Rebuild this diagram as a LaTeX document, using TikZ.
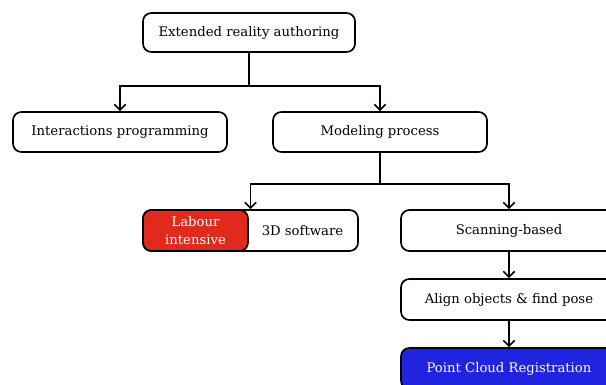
\documentclass[tikz,border=0pt]{standalone}
\usepackage{fontspec}
\setmainfont{DejaVu Serif}
\usetikzlibrary{arrows.meta}
\definecolor{labourred}{RGB}{224,42,30}
\definecolor{pcrblue}{RGB}{32,36,224}
\begin{document}
\begin{tikzpicture}[x=0.025cm, y=-0.025cm,
	box/.style={rectangle, rounded corners=6pt, draw=black, line width=1.2pt, fill=white, align=center, font=\fontsize{9.4}{11}\selectfont},
	link/.style={-{Straight Barb[length=4pt, width=8pt, line width=1.2pt]}, line width=1.2pt}]
	\clip (0,0) rectangle (606,385);

	\node[box, minimum width=5.3cm, minimum height=0.975cm](authoring) at (249,32.5){Extended reality authoring};
	\node[box, minimum width=5.35cm, minimum height=1.0cm](interaction) at (120,132){Interactions programming};
	\node[box, minimum width=5.35cm, minimum height=1.0cm](modeling) at (380,132){Modeling process};

	\node[box, minimum width=5.375cm, minimum height=1.025cm, label={[xshift=1.3cm, font=\fontsize{9.4}{11}\selectfont]center:3D software}](software) at (250.5,230.5){};
	\node[box, fill=labourred, text=white, minimum width=2.625cm, minimum height=1.025cm, font=\fontsize{9.4}{12.6}\selectfont](labour) at (195.5,230.5){Labour\\intensive};

	\node[box, minimum width=5.4cm, minimum height=1.025cm](scanning) at (509,230.5){Scanning-based};
	\node[box, minimum width=5.4cm, minimum height=1.025cm](align) at (509,299.5){Align objects \& find pose};
	\node[box, fill=pcrblue, text=white, minimum width=5.4cm, minimum height=1.025cm](pcr) at (509,368.5){Point Cloud Registration};

	% draw tree edges
	\draw[link] (authoring.south) -- ++(0,33) -| (interaction.north);
	\draw[link] (authoring.south) -- ++(0,33) -| (modeling.north);
	\draw[link] (modeling.south) -- ++(0,31) -| (software.north);
	\draw[link] (modeling.south) -- ++(0,31) -| (scanning.north);
	\draw[link] (scanning.south) -- (align.north);
	\draw[link] (align.south) -- (pcr.north);
\end{tikzpicture}
\end{document}
